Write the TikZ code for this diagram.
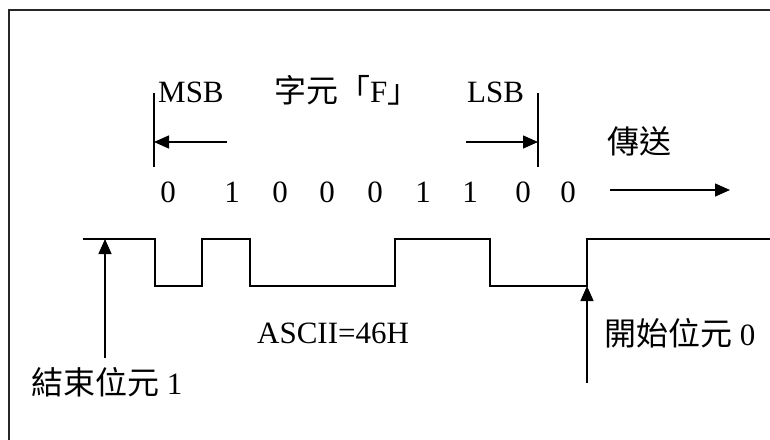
\documentclass[tikz,border=0pt]{standalone}
\usepackage{fontspec}
\setmainfont{Liberation Serif}
\newfontfamily\cjk{Noto Sans CJK TC}
\usetikzlibrary{arrows.meta}
\newcommand{\cjkf}{\cjk\fontsize{32}{34}\selectfont}
\begin{document}
\begin{tikzpicture}[x=1pt,y=-1pt,
  frame/.style={line width=2pt, draw=black!85},
  wave/.style={line width=1.4pt},
  marker/.style={line width=1.4pt},
  arr/.style={line width=1.4pt, -{Triangle[length=15pt,width=13pt]}},
  lbl/.style={inner sep=0pt, font=\fontsize{31}{33}\selectfont}]
\useasboundingbox (0,0) rectangle (770,439);
% frame (cut at the right and bottom)
\draw[frame] (9,445) -- (9,10) -- (775,10);

% labels on top
\node[lbl, anchor=base west] (msb) at (158,102) {MSB};
\node[lbl, anchor=base west] (chr) at (274,102) {{\cjkf 字元「}F{\cjkf 」}};
\node[lbl, anchor=base west] (lsb) at (467,102) {LSB};
\node[inner sep=0pt, font=\cjkf] (send) at (639,141) {傳送};

% MSB / LSB markers
\coordinate (msbT) at (154,93);
\coordinate (msbB) at (154,167);
\coordinate (lsbT) at (538,93);
\coordinate (lsbB) at (538,167);
\draw[marker] (msbT) -- (msbB);
\draw[marker] (lsbT) -- (lsbB);
\coordinate (la) at (227,142);
\coordinate (lt) at (154,142);
\coordinate (ra) at (466,142);
\coordinate (rt) at (538,142);
\draw[arr] (la) -- (lt);
\draw[arr] (ra) -- (rt);

% bit digits
\foreach \x/\b [count=\i] in {168/0,232/1,280/0,327/0,375/0,423/1,470/1,523/0,568/0}
  \node[lbl, anchor=base] (d\i) at (\x,202) {\b};
\coordinate (s0) at (610,190);
\coordinate (s1) at (730,190);
\draw[arr] (s0) -- (s1);

% waveform
\coordinate (w0) at (83,239);
\coordinate (w1) at (155,239);
\coordinate (w2) at (155,286);
\coordinate (w3) at (202,286);
\coordinate (w4) at (202,239);
\coordinate (w5) at (250,239);
\coordinate (w6) at (250,286);
\coordinate (w7) at (395,286);
\coordinate (w8) at (395,239);
\coordinate (w9) at (490,239);
\coordinate (w10) at (490,286);
\coordinate (w11) at (587,286);
\coordinate (w12) at (587,239);
\coordinate (w13) at (775,239);
\draw[wave] (w0) -- (w1) -- (w2) -- (w3) -- (w4) -- (w5) -- (w6) -- (w7) -- (w8) -- (w9) -- (w10) -- (w11) -- (w12) -- (w13);

% bottom labels
\node[lbl, anchor=base west] (ascii) at (257,343) {ASCII=46H};
\node[lbl, anchor=west] (start) at (604,333) {{\cjkf 開始位元} 0};
\node[lbl, anchor=west] (stop) at (31,382) {{\cjkf 結束位元} 1};

% pointer arrows
\coordinate (stopA) at (105,358);
\coordinate (stopT) at (105,239);
\draw[arr] (stopA) -- (stopT);
\coordinate (startA) at (587,383);
\coordinate (startT) at (587,286);
\draw[arr] (startA) -- (startT);
\end{tikzpicture}
\end{document}
